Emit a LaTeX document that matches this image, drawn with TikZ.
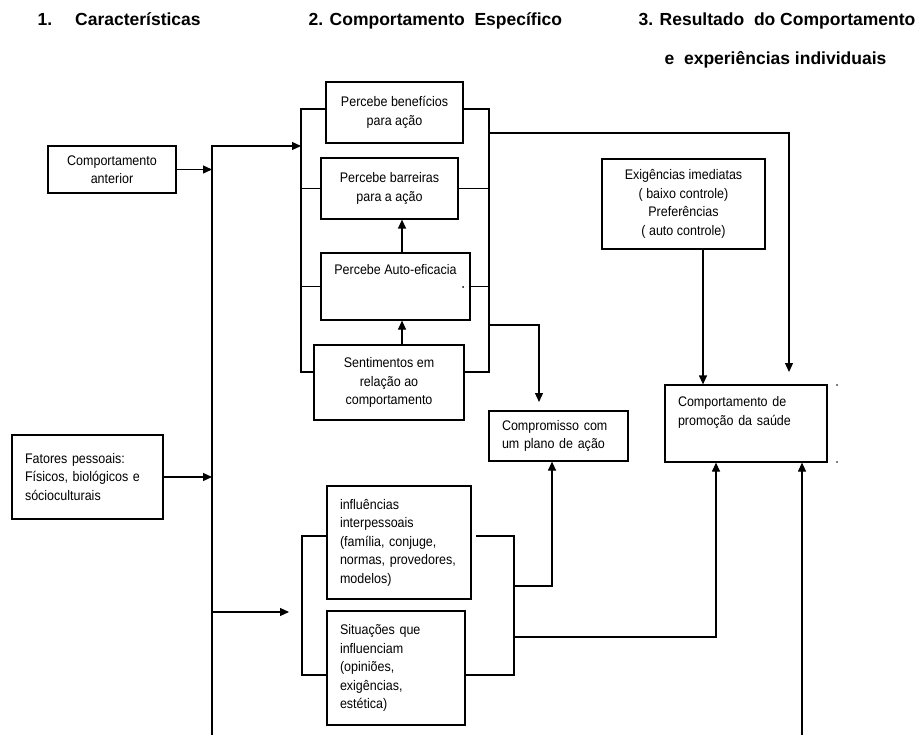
\documentclass[tikz,border=0pt]{standalone}
\usepackage{fontspec}
\setmainfont{Liberation Sans}
\newfontfamily\narrowfont[FakeStretch=0.9]{Liberation Sans}
\usetikzlibrary{arrows.meta}

\begin{document}
\begin{tikzpicture}[x=1pt,y=-1pt,line width=1.2pt,
    box/.style={draw,inner sep=0pt,align=center,
      font=\narrowfont\fontsize{13.9}{18.5}\selectfont},
    lbox/.style={box,align=left,inner xsep=13pt},
    head/.style={anchor=base west,inner sep=0pt,
      font=\fontsize{17.5}{20}\selectfont\bfseries},
    arr/.style={-{Triangle[length=9pt,width=8pt]}}]
  \useasboundingbox (0,0) rectangle (920,735);

  %% column titles
  \node (h1) at (37,26) [head] {1.\hspace{23pt}Características};
  \node (h2) at (308,26) [head] {2. Comportamento\ \ Específico};
  \node (h3) at (638,26) [head] {3. Resultado\ \ do Comportamento};
  \node (h4) at (664,65) [head] {e\ \ experiências individuais};

  %% characteristics
  \node (ant) at (112,169.5) [box,minimum width=128,minimum height=47] {Comportamento\\anterior};
  \node (fat) at (87.5,477) [lbox,text width=125,minimum height=84] {Fatores pessoais:\\Físicos, biológicos e\\sócioculturais};

  %% perceptions
  \node (ben) at (394.5,112.5) [box,minimum width=137,minimum height=61] {Percebe benefícios\\para ação};
  \node (bar) at (389.5,188.5) [box,minimum width=137,minimum height=61] {Percebe barreiras\\para a ação};
  \node (aut) at (395.5,286.5) [box,minimum width=149,minimum height=67] {Percebe Auto-eficacia\\[16pt]\mbox{}};
  \node (sen) at (389,382.5) [box,minimum width=150,minimum height=75] {Sentimentos em\\relação ao\\comportamento};

  %% influences
  \node (inf) at (399,542.5) [lbox,text width=118,minimum height=113] {influências\\interpessoais\\(família, conjuge,\\normas, provedores,\\modelos)};
  \node (sit) at (396,668) [lbox,text width=112,minimum height=114] {Situações que\\influenciam\\(opiniões,\\exigências,\\estética)};

  %% results
  \node (com) at (558.5,436) [lbox,text width=113,minimum height=50] {Compromisso com\\um plano de ação};
  \node (exi) at (683.5,204) [box,minimum width=163,minimum height=90] {Exigências imediatas\\( baixo controle)\\Preferências\\( auto controle)};
  \node (pro) at (746,423.5) [lbox,text width=136,minimum height=77] {Comportamento de\\promoção da saúde\\[7pt]\mbox{}};

  %% helper points
  \coordinate (bus) at (212,146);
  \coordinate (busend) at (212,735);
  \coordinate (pl) at (301,109);
  \coordinate (plb) at (301,372);
  \coordinate (pr) at (489,109);
  \coordinate (prb) at (489,372);
  \coordinate (mid) at (402,0);
  \coordinate (po1) at (489,133);
  \coordinate (po2) at (489,325);
  \coordinate (pt1) at (789,372);
  \coordinate (pt2) at (539,402);
  \coordinate (ex) at (703,0);
  \coordinate (ql) at (302,536);
  \coordinate (qlb) at (302,675);
  \coordinate (qrs) at (476,536);
  \coordinate (qr) at (514,536);
  \coordinate (qrb) at (514,675);
  \coordinate (qo1) at (514,586);
  \coordinate (qo2) at (514,637);
  \coordinate (cx) at (552,0);
  \coordinate (px1) at (716,0);
  \coordinate (px2) at (802,735);
  \coordinate (lt) at (289,612);

  %% left line
  \draw[arr] (busend) -- (bus) -- (bus -| pl);
  \draw[arr] (ant.east) -- (ant.east -| bus);
  \draw[arr] (fat.east) -- (fat.east -| bus);
  \draw[arr] (lt -| bus) -- (lt);

  %% bracket round the perceptions
  \draw (ben.west |- pl) -- (pl) -- (plb) -- (sen.west |- plb);
  \draw (ben.east |- pr) -- (pr) -- (prb) -- (sen.east |- prb);
  \draw (bar.west) -- (bar.west -| pl);
  \draw (bar.east) -- (bar.east -| pr);
  \draw (aut.west) -- (aut.west -| pl);
  \draw (aut.east) -- (aut.east -| pr);
  \draw[arr] (sen.north -| mid) -- (aut.south -| mid);
  \draw[arr] (aut.north -| mid) -- (bar.south -| mid);
  \draw[arr] (po1) -| (pt1);
  \draw[arr] (po2) -| (pt2);

  %% bracket round the influences
  \draw (inf.west |- ql) -- (ql) -- (qlb) -- (sit.west |- qlb);
  \draw (qrs) -- (qr) -- (qrb) -- (sit.east |- qrb);
  \draw[arr] (qo1) -| (com.south -| cx);
  \draw[arr] (qo2) -| (pro.south -| px1);

  %% into the health behaviour
  \draw[arr] (exi.south -| ex) -- (pro.north -| ex);
  \draw[arr] (px2) -- (pro.south -| px2);

  %% specks
  \fill (463,287) circle (1pt);
  \fill (837,385) circle (0.8pt);
  \fill (837,462) circle (0.8pt);
\end{tikzpicture}
\end{document}
